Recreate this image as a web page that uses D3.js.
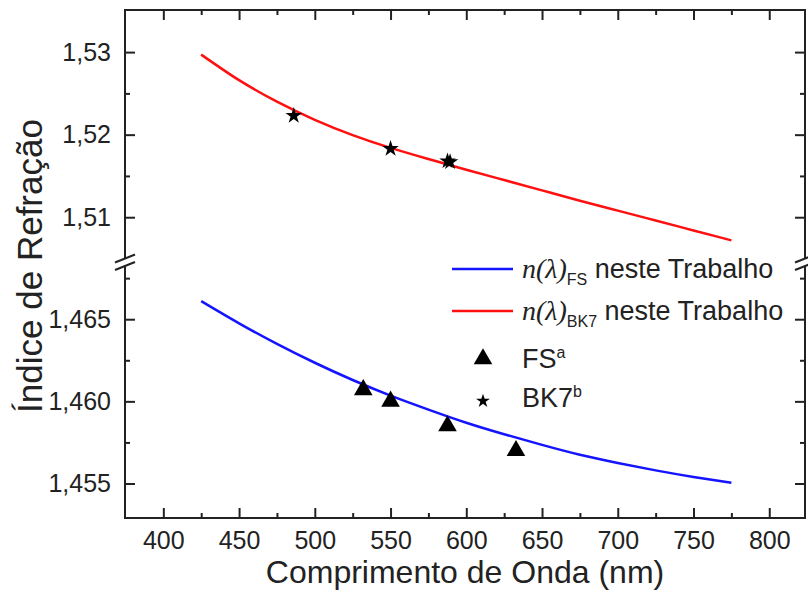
<!DOCTYPE html>
<html>
<head>
<meta charset="utf-8">
<script src="https://cdn.jsdelivr.net/npm/d3@7"></script>
<style>
  body { margin: 0; background: #fff; }
  svg { display: block; }
  .axis text { font-family: "Liberation Sans", Arial, sans-serif; font-size: 25px; fill: #222; }
  .axis line { stroke: #222; stroke-width: 2; }
  .axis path { display: none; }
</style>
</head>
<body>
<svg id="chart" width="808" height="595"></svg>
<script>
// fitted curves (this work)
const wavelengths = [425, 450, 475, 500, 525, 550, 575, 600, 625, 650, 675, 700, 725, 750, 775];
const nBK7Fit = [1.5297, 1.5266, 1.5240, 1.5218, 1.51995, 1.5184, 1.51705, 1.51575, 1.5145, 1.51325, 1.5120, 1.5108, 1.5096, 1.5084, 1.5072];
const nFSFit = [1.4661, 1.46475, 1.4635, 1.46235, 1.4613, 1.46035, 1.4595, 1.4587, 1.4580, 1.45735, 1.45675, 1.45625, 1.4558, 1.4554, 1.45505];

// reference points
const fsRefLambda = [532, 550, 587.6, 632.8];
const fsRefN = [1.4607, 1.4600, 1.4585, 1.4570];
const bk7RefLambda = [486.1, 550, 587.6, 589.3];
const bk7RefN = [1.5223, 1.5183, 1.5168, 1.5167];

// ticks
const xMajor = [400, 450, 500, 550, 600, 650, 700, 750, 800];
const xMinor = [425, 475, 525, 575, 625, 675, 725, 775];
const yUpMajor = [1.51, 1.52, 1.53];
const yUpMinor = [1.515, 1.525];
const yLoMajor = [1.455, 1.460, 1.465];
const yLoMinor = [1.4575, 1.4625, 1.4675];

const svg = d3.select("#chart");
const pLeft = 125, pRight = 805, pTop = 10, pBottom = 518;
const breakTop = 258.5, breakBot = 266;

const x = d3.scaleLinear().domain([374.7, 823.6]).range([pLeft, pRight]);
const yUp = d3.scaleLinear().domain([1.505, 1.5351]).range([breakTop, pTop]);
const yLo = d3.scaleLinear().domain([1.4529, 1.4683]).range([pBottom, 265]);

const comma = f => v => d3.format(f)(v).replace(".", ",");

function addAxis(axis, tx, ty) {
    svg.append("g").attr("class", "axis")
        .attr("transform", `translate(${tx},${ty})`)
        .call(axis);
}

// x axes
addAxis(d3.axisBottom(x).tickValues(xMajor).tickSize(-10).tickPadding(13).tickFormat(d3.format("d")), 0, pBottom);
addAxis(d3.axisBottom(x).tickValues(xMinor).tickSize(-5).tickFormat(""), 0, pBottom);
addAxis(d3.axisTop(x).tickValues(xMajor).tickSize(-10).tickFormat(""), 0, pTop);
addAxis(d3.axisTop(x).tickValues(xMinor).tickSize(-5).tickFormat(""), 0, pTop);

// y axes, upper and lower segments
addAxis(d3.axisLeft(yUp).tickValues(yUpMajor).tickSize(-10).tickPadding(14).tickFormat(comma(".2f")), pLeft, 0);
addAxis(d3.axisLeft(yUp).tickValues(yUpMinor).tickSize(-5).tickFormat(""), pLeft, 0);
addAxis(d3.axisLeft(yLo).tickValues(yLoMajor).tickSize(-10).tickPadding(14).tickFormat(comma(".3f")), pLeft, 0);
addAxis(d3.axisLeft(yLo).tickValues(yLoMinor).tickSize(-5).tickFormat(""), pLeft, 0);
addAxis(d3.axisRight(yUp).tickValues(yUpMajor).tickSize(-10).tickFormat(""), pRight, 0);
addAxis(d3.axisRight(yUp).tickValues(yUpMinor).tickSize(-5).tickFormat(""), pRight, 0);
addAxis(d3.axisRight(yLo).tickValues(yLoMajor).tickSize(-10).tickFormat(""), pRight, 0);
addAxis(d3.axisRight(yLo).tickValues(yLoMinor).tickSize(-5).tickFormat(""), pRight, 0);

// frame with breaks
const frame = svg.append("g").attr("stroke", "#222").attr("stroke-width", 2).attr("fill", "none");
frame.append("line").attr("x1", pLeft - 1).attr("x2", pRight + 1).attr("y1", pTop).attr("y2", pTop);
frame.append("line").attr("x1", pLeft - 1).attr("x2", pRight + 1).attr("y1", pBottom).attr("y2", pBottom);
[pLeft, pRight].forEach(ax => {
    frame.append("line").attr("x1", ax).attr("x2", ax).attr("y1", pTop).attr("y2", breakTop);
    frame.append("line").attr("x1", ax).attr("x2", ax).attr("y1", breakBot).attr("y2", pBottom);
    frame.append("line").attr("x1", ax - 10).attr("y1", breakTop + 4).attr("x2", ax + 10).attr("y2", breakTop - 4);
    frame.append("line").attr("x1", ax - 10).attr("y1", breakBot + 4).attr("x2", ax + 10).attr("y2", breakBot - 4);
});

// curves
const line = yScale => d3.line()
    .x((d, i) => x(wavelengths[i]))
    .y(d => yScale(d))
    .curve(d3.curveNatural);

svg.append("path").datum(nBK7Fit)
    .attr("d", line(yUp))
    .attr("fill", "none").attr("stroke", "#ff1010").attr("stroke-width", 2.5);
svg.append("path").datum(nFSFit)
    .attr("d", line(yLo))
    .attr("fill", "none").attr("stroke", "#1414ff").attr("stroke-width", 2.5);

// reference markers
const tri = d3.symbol().type(d3.symbolTriangle).size(150);
const star = d3.symbol().type(d3.symbolStar).size(85);

svg.selectAll(".fs").data(fsRefN).enter().append("path")
    .attr("class", "fs")
    .attr("d", tri)
    .attr("transform", (d, i) => `translate(${x(fsRefLambda[i])},${yLo(d)})`)
    .attr("fill", "#000");

svg.selectAll(".bk").data(bk7RefN).enter().append("path")
    .attr("class", "bk")
    .attr("d", star)
    .attr("transform", (d, i) => `translate(${x(bk7RefLambda[i])},${yUp(d)})`)
    .attr("fill", "#000");

// legend
const leg = svg.append("g")
    .attr("font-family", "Liberation Sans, Arial, sans-serif")
    .attr("font-size", 27).attr("fill", "#222");

function fitEntry(y, color, sub) {
    leg.append("line").attr("x1", 452).attr("x2", 513).attr("y1", y).attr("y2", y)
        .attr("stroke", color).attr("stroke-width", 2.5);
    const t = leg.append("text").attr("x", 522).attr("y", y + 9);
    t.append("tspan").attr("font-family", "Liberation Serif, Times New Roman, serif")
        .attr("font-style", "italic").attr("font-size", 28).text("n(λ)");
    t.append("tspan").attr("font-size", 16).attr("dy", 7).text(sub);
    t.append("tspan").attr("dy", -7).text(" neste Trabalho");
}
fitEntry(269, "#1414ff", "FS");
fitEntry(311, "#ff1010", "BK7");

leg.append("path").attr("d", tri).attr("transform", "translate(483,359)").attr("fill", "#000");
leg.append("path").attr("d", d3.symbol().type(d3.symbolStar).size(60)).attr("transform", "translate(483,401)").attr("fill", "#000");

const fsT = leg.append("text").attr("x", 522).attr("y", 368);
fsT.append("tspan").text("FS");
fsT.append("tspan").attr("font-size", 16).attr("dy", -10).text("a");
const bkT = leg.append("text").attr("x", 522).attr("y", 407);
bkT.append("tspan").text("BK7");
bkT.append("tspan").attr("font-size", 16).attr("dy", -10).text("b");

// axis titles
svg.append("text")
    .attr("x", (pLeft + pRight) / 2).attr("y", 583)
    .attr("text-anchor", "middle")
    .attr("font-family", "Liberation Sans, Arial, sans-serif")
    .attr("font-size", 32).attr("fill", "#222")
    .text("Comprimento de Onda (nm)");

svg.append("text")
    .attr("transform", "translate(42,266) rotate(-90)")
    .attr("text-anchor", "middle")
    .attr("font-family", "Liberation Sans, Arial, sans-serif")
    .attr("font-size", 35).attr("fill", "#222")
    .text("Índice de Refração");
</script>
</body>
</html>
